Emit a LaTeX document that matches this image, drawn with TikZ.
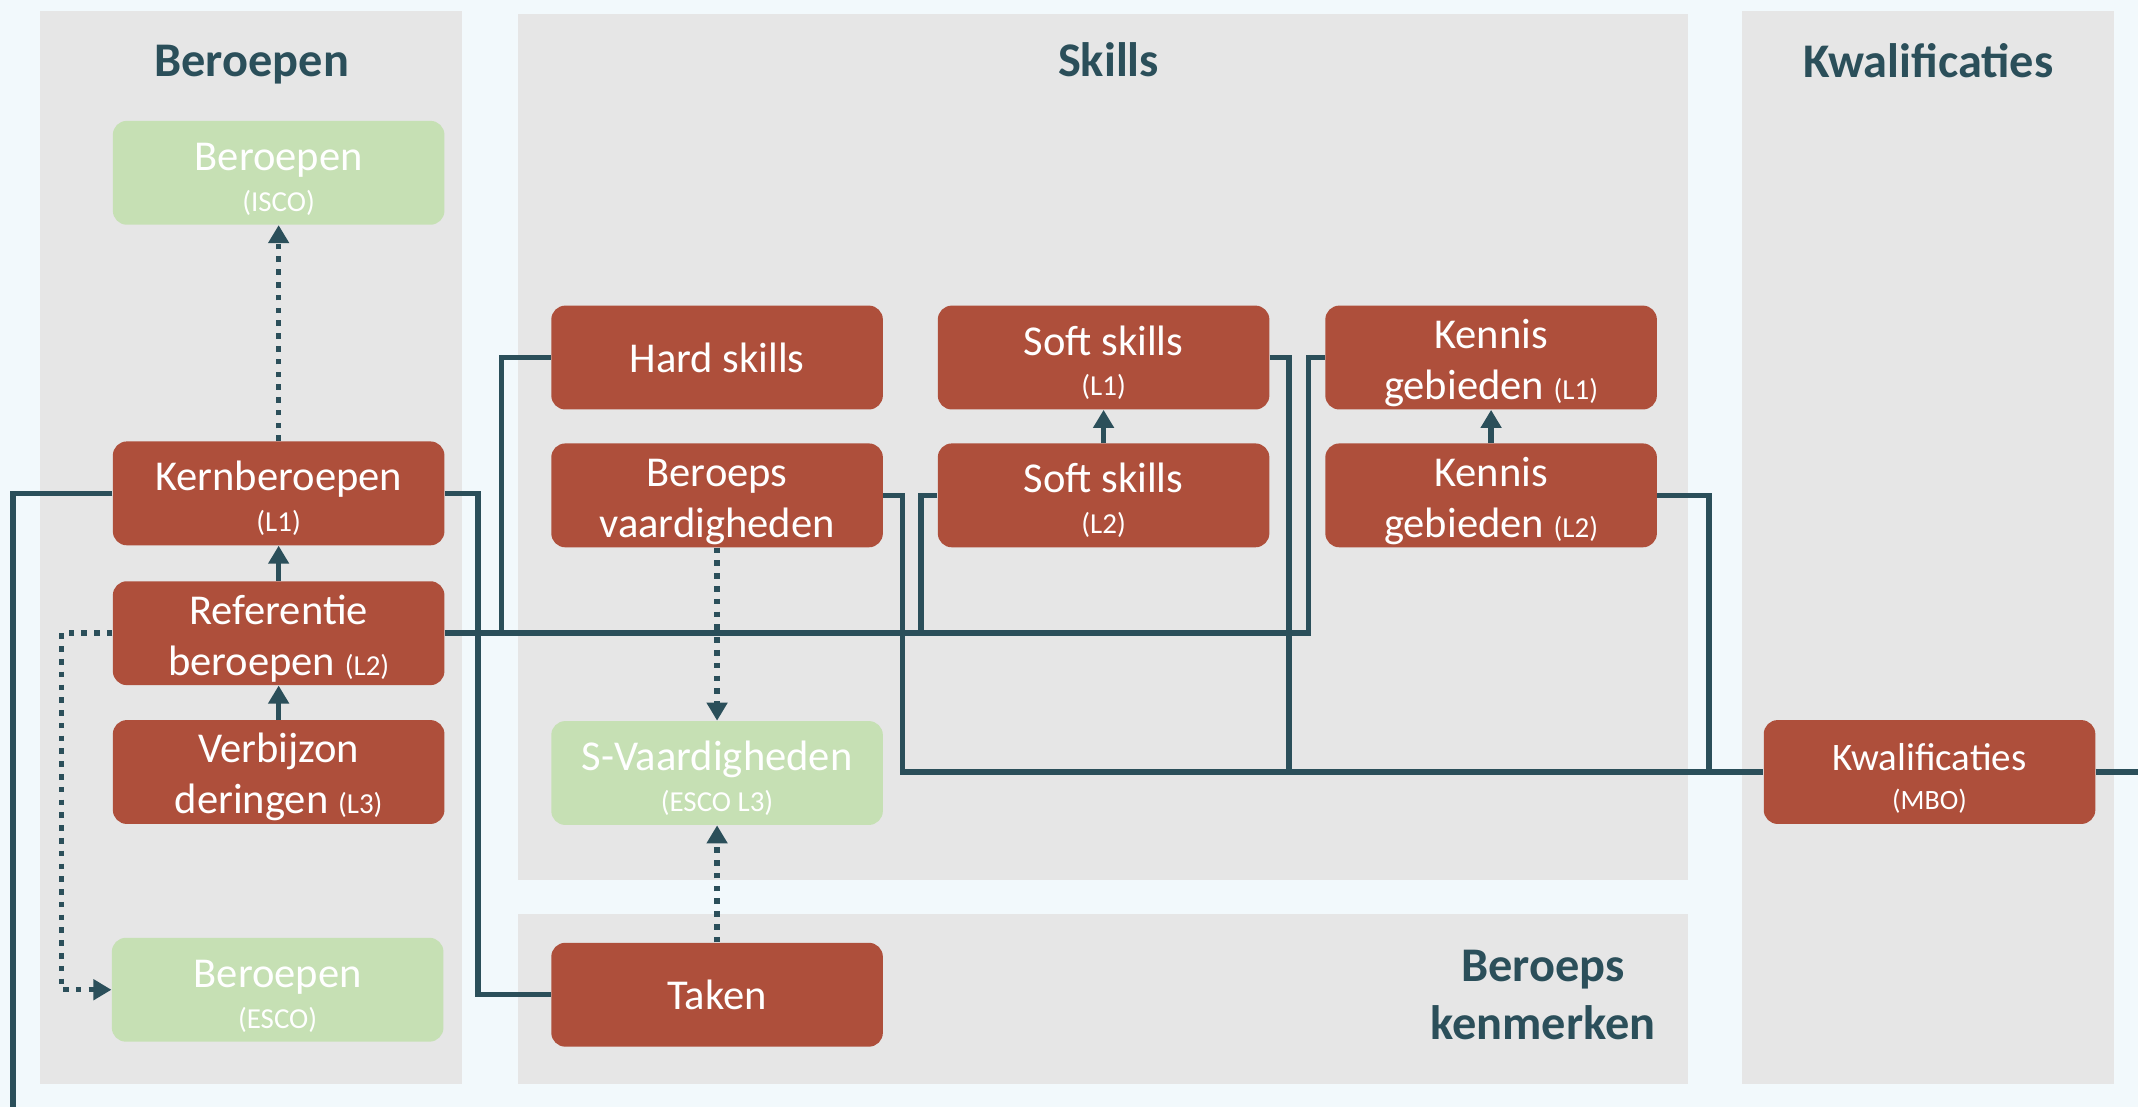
\documentclass[tikz,border=0pt]{standalone}
\usepackage{fontspec}
\setmainfont{Carlito}
\usetikzlibrary{arrows.meta}

\definecolor{bg}{HTML}{F2F9FC}
\definecolor{panelgray}{HTML}{E6E6E6}
\definecolor{boxred}{HTML}{AE4F3B}
\definecolor{boxgreen}{HTML}{C6E0B4}
\definecolor{linecol}{HTML}{2B4F5A}

\newcommand{\smalltag}[1]{{\fontsize{14.5}{16}\selectfont #1}}
\newcommand{\topstrut}{\rule{0pt}{20pt}}

\tikzset{
  box/.style={rounded corners=7pt, minimum width=166pt, minimum height=52pt,
    inner sep=0pt, align=center, text=white, font=\fontsize{21.3}{25.5}\selectfont},
  redbox/.style={box, fill=boxred},
  greenbox/.style={box, fill=boxgreen},
  title/.style={anchor=base, text=linecol, font=\bfseries\fontsize{24.2}{29}\selectfont},
  link/.style={draw=linecol, line width=2.75pt},
  arrow/.style={link, -{Triangle[length=9pt, width=10pt]}},
  dotlink/.style={arrow, dash pattern=on 2.8pt off 3.6pt},
}

\begin{document}
\begin{tikzpicture}[x=0.5pt, y=-0.5pt]
  % panels
  \fill[bg] (0, 0) rectangle (2141, 1108);
  \fill[panelgray] (40, 11) rectangle (463, 1085);
  \fill[panelgray] (519, 14) rectangle (1690, 881);
  \fill[panelgray] (519, 915) rectangle (1690, 1085);
  \fill[panelgray] (1744, 11) rectangle (2117, 1085);

  \node[title] (tberoepen) at (252, 77) {Beroepen};
  \node[title] (tskills) at (1110, 77) {Skills};
  \node[title] (tkwal) at (1931, 78) {Kwalificaties};
  \node[title, anchor=center, align=center, inner sep=0pt] (tkenmerken) at (1545, 996) {Beroeps\\kenmerken};

  % beroepen
  \node[greenbox] (isco) at (279, 173) {\topstrut Beroepen\\[-5pt]\smalltag{(ISCO)}};
  \node[redbox] (kern) at (279, 494) {\topstrut Kernberoepen\\[-5pt]\smalltag{(L1)}};
  \node[redbox] (ref) at (279, 634) {\topstrut Referentie\\beroepen \smalltag{(L2)}};
  \node[redbox] (verb) at (279, 773) {\topstrut Verbijzon\\deringen \smalltag{(L3)}};
  \node[greenbox] (esco) at (278, 991) {\topstrut Beroepen\\[-5pt]\smalltag{(ESCO)}};

  % skills
  \node[redbox] (hard) at (718, 358) {Hard skills};
  \node[redbox] (beroeps) at (718, 496) {\topstrut Beroeps\\vaardigheden};
  \node[redbox] (softone) at (1105, 358) {\topstrut Soft skills\\[-5pt]\smalltag{(L1)}};
  \node[redbox] (softtwo) at (1105, 496) {\topstrut Soft skills\\[-5pt]\smalltag{(L2)}};
  \node[redbox] (kenone) at (1493, 358) {\topstrut Kennis\\gebieden \smalltag{(L1)}};
  \node[redbox] (kentwo) at (1493, 496) {\topstrut Kennis\\gebieden \smalltag{(L2)}};
  \node[greenbox] (sv) at (718, 774) {\topstrut S-Vaardigheden\\[-5pt]\smalltag{(ESCO L3)}};
  \node[redbox] (taken) at (718, 996) {Taken};

  % kwalificaties
  \node[redbox, font=\fontsize{19.5}{24}\selectfont] (kwal) at (1932, 773) {\topstrut Kwalificaties\\[-4.5pt]{\fontsize{14}{15}\selectfont (MBO)}};

  \coordinate (leftend) at (13, 1108);
  \coordinate (rightend) at (2141, 773);

  % connectors
  \draw[link] (kern.west) -| (leftend);
  \draw[link] (kern.east) -- ++(33, 0) |- (taken.west);
  \draw[link] (ref.east) -- ++(865, 0) |- (kenone.west);
  \draw[link] (hard.west) -| (502, 634);
  \draw[link] (softtwo.west) -| (922, 634);

  \draw[link] (beroeps.east) -- ++(19, 0) |- (kwal.west);
  \draw[link] (softone.east) -- ++(19, 0) |- (kwal.west);
  \draw[link] (kentwo.east) -- ++(52, 0) |- (kwal.west);
  \draw[link] (kwal.east) -- (rightend);

  \draw[arrow] (ref.north) -- (kern.south);
  \draw[arrow] (verb.north) -- (ref.south);
  \draw[arrow] (softtwo.north) -- (softone.south);
  \draw[arrow] (kentwo.north) -- (kenone.south);

  \draw[dotlink] (kern.north) -- (isco.south);
  \draw[dotlink] (ref.west) -- ++(-51, 0) |- (esco.west);
  \draw[dotlink] (beroeps.south) -- (sv.north);
  \draw[dotlink] (taken.north) -- (sv.south);
\end{tikzpicture}
\end{document}
